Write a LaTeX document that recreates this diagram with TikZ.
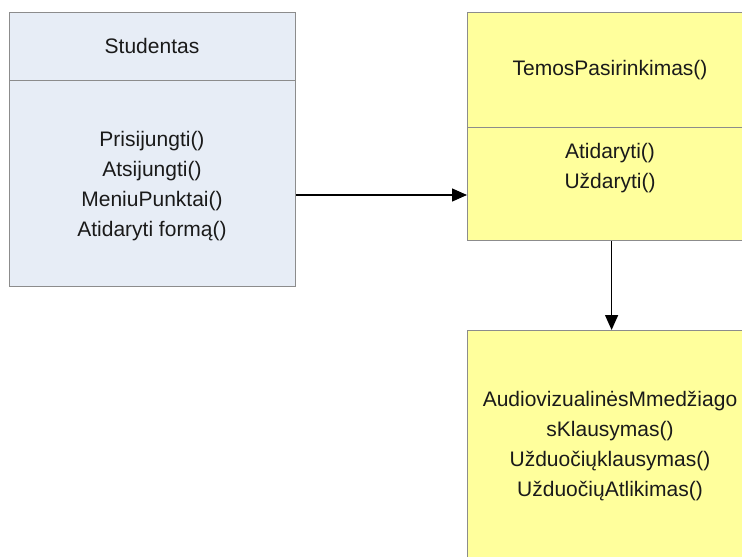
\documentclass[tikz,border=0pt]{standalone}
\usepackage{fontspec}
\setmainfont{Liberation Sans}
\usetikzlibrary{arrows.meta}
\definecolor{boxline}{HTML}{8C8C8C}
\definecolor{bluefill}{HTML}{E7EDF6}
\definecolor{yellowfill}{HTML}{FFFF9C}
\definecolor{ink}{HTML}{1A1A1A}
\tikzset{
  classbox/.style={draw=boxline, line width=1.2pt, inner sep=0pt, anchor=north west},
  label/.style={text=ink, font=\fontsize{21}{30}\selectfont, align=center, inner sep=0pt},
  link/.style={draw=black, line width=1.3pt, -{Triangle[length=15pt,width=13pt]}}
}
\begin{document}
\begin{tikzpicture}[x=1pt,y=-1pt]
\useasboundingbox (0,0) rectangle (742,557);
\clip (0,0) rectangle (742,557);
\fill[white] (0,0) rectangle (742,557);

% Studentas class
\node[classbox, fill=bluefill, minimum width=286pt, minimum height=274pt] (stud) at (9,12) {};
\coordinate (studdivL) at (9,80);
\coordinate (studdivR) at (295,80);
\draw[boxline, line width=1pt] (studdivL) -- (studdivR);
\node[label] (studname) at (152,46) {Studentas};
\node[label] (studops) at (152,186) {Prisijungti()\\Atsijungti()\\MeniuPunktai()\\Atidaryti formą()};

% TemosPasirinkimas class
\node[classbox, fill=yellowfill, minimum width=288pt, minimum height=228pt] (tema) at (467,12) {};
\coordinate (temadivL) at (467,127);
\coordinate (temadivR) at (755,127);
\draw[boxline, line width=1pt] (temadivL) -- (temadivR);
\node[label] (temaname) at (610,70) {TemosPasirinkimas()};
\node[label] (temaops) at (610,168) {Atidaryti()\\Uždaryti()};

% Audiovizualinės medžiagos class
\node[classbox, fill=yellowfill, minimum width=288pt, minimum height=240pt] (audio) at (467,330) {};
\node[label] (audioops) at (610,446) {AudiovizualinėsMmedžiago\\sKlausymas()\\Užduočiųklausymas()\\UžduočiųAtlikimas()};

% associations
\coordinate (h1) at (295,195);
\coordinate (h2) at (467,195);
\draw[link] (stud.east |- h1) -- (tema.west |- h2);
\draw[link] (tema.south) -- (audio.north);
\end{tikzpicture}
\end{document}
